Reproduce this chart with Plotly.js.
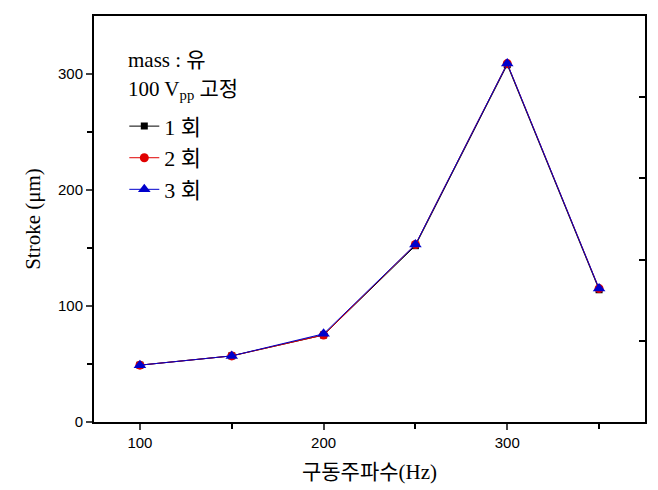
<!DOCTYPE html>
<html><head><meta charset="utf-8">
<script src="https://cdn.plot.ly/plotly-3.0.1.min.js"></script>
<style>body{margin:0;background:#fff}#c{width:658px;height:490px}</style>
</head><body><div id="c"></div>
<script>
const freq = [100, 150, 200, 250, 300, 350];
const run1 = [49, 57, 75, 152, 308, 114];
const run2 = [49, 57, 75, 153, 309, 115];
const run3 = [49, 57, 76, 153, 309, 115];
const names = ['1 회', '2 회', '3 회'];
const rightTicks = [70, 140, 210, 280];

const serif = 'Liberation Serif, Noto Sans CJK KR, serif';
const traces = [
  {x: freq, y: run1, name: names[0], mode: 'lines+markers', line: {color: '#000000', width: 1}, marker: {symbol: 'square', size: 7, color: '#000000'}},
  {x: freq, y: run2, name: names[1], mode: 'lines+markers', line: {color: '#e00000', width: 1}, marker: {symbol: 'circle', size: 9, color: '#e00000'}},
  {x: freq, y: run3, name: names[2], mode: 'lines+markers', line: {color: '#0000cc', width: 1}, marker: {symbol: 'triangle-up', size: 11, color: '#0000cc'}},
  {x: freq, y: run3, yaxis: 'y2', mode: 'lines', showlegend: false, hoverinfo: 'skip', line: {color: 'rgba(0,0,0,0)', width: 0}}
];
const layout = {
  width: 658, height: 490,
  margin: {l: 94, r: 13, t: 16, b: 68},
  paper_bgcolor: '#fff', plot_bgcolor: '#fff',
  showlegend: true,
  legend: {x: 0.055, y: 0.78, xanchor: 'left', yanchor: 'top', bgcolor: 'rgba(0,0,0,0)',
    font: {family: serif, size: 22, color: '#000'}},
  xaxis: {range: [75, 375], tickvals: [100, 200, 300], ticks: 'outside', ticklen: 6, tickwidth: 2,
    minor: {tickvals: [150, 250, 350], ticks: 'outside', ticklen: 5, tickwidth: 2, tickcolor: '#000'},
    showline: true, linewidth: 2, linecolor: '#000', mirror: true, showgrid: false, zeroline: false,
    tickfont: {family: 'Liberation Sans, Arial, sans-serif', size: 15, color: '#000'},
    title: {text: '구동주파수(Hz)', font: {family: serif, size: 21, color: '#000'}, standoff: 14}},
  yaxis: {range: [0, 350], tickvals: [0, 100, 200, 300], ticks: 'outside', ticklen: 6, tickwidth: 2,
    minor: {tickvals: [50, 150, 250], ticks: 'outside', ticklen: 5, tickwidth: 2, tickcolor: '#000'},
    showline: true, linewidth: 2, linecolor: '#000', showgrid: false, zeroline: false,
    tickfont: {family: 'Liberation Sans, Arial, sans-serif', size: 15, color: '#000'},
    title: {text: 'Stroke (μm)', font: {family: serif, size: 21, color: '#000'}, standoff: 12}},
  yaxis2: {overlaying: 'y', side: 'right', range: [0, 350], tickvals: rightTicks, showticklabels: false,
    ticks: 'inside', ticklen: 6, tickwidth: 2, tickcolor: '#000', showline: true, linewidth: 2, linecolor: '#000',
    showgrid: false, zeroline: false},
  annotations: [
    {xref: 'paper', yref: 'paper', x: 0.058, y: 0.892, xanchor: 'left', yanchor: 'middle', showarrow: false,
     text: 'mass : 유', font: {family: serif, size: 21, color: '#000'}},
    {xref: 'paper', yref: 'paper', x: 0.058, y: 0.818, xanchor: 'left', yanchor: 'middle', showarrow: false,
     text: '100 V<sub>pp</sub> 고정', font: {family: serif, size: 21, color: '#000'}}
  ]
};
Plotly.newPlot('c', traces, layout, {displayModeBar: false});
</script></body></html>
